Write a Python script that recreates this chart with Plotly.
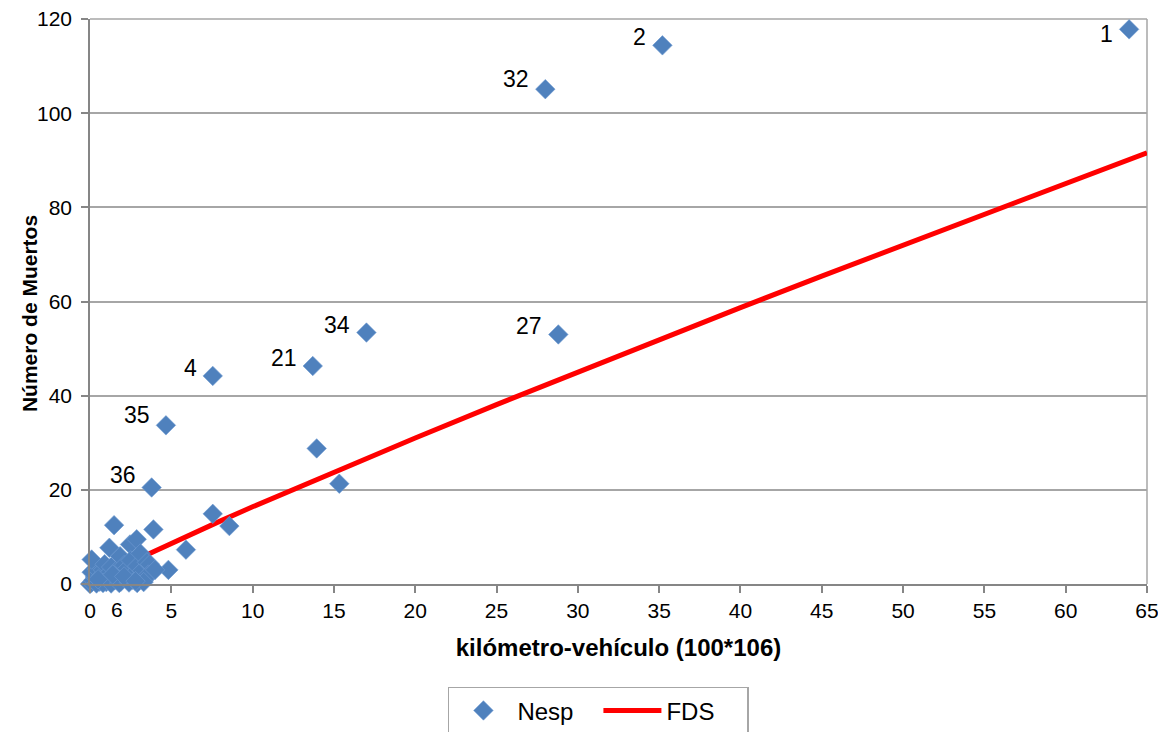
import plotly.graph_objects as go

# Nesp observations: x = kilómetro-vehículo (100*10^6), y = Número de Muertos
nesp_x = [63.9, 35.2, 28.0, 28.8, 17.0, 13.7, 7.55, 4.67, 3.79,
          13.94, 15.33, 7.55, 8.57, 5.90, 4.82, 3.9,
          0.0, 0.1, 0.2, 0.3, 0.1, 0.4, 0.1, 0.6, 0.7, 0.8, 0.9, 1.0, 1.1, 1.2,
          1.19, 1.3, 1.48, 1.5, 1.6, 1.7, 1.85, 1.9, 2.0, 2.1, 2.2, 2.3, 2.46,
          2.5, 2.6, 2.7, 2.87, 2.9, 3.0, 3.1, 3.2, 3.38, 3.5, 3.69, 3.6, 4.0,
          0.4, 0.8, 1.3, 1.8, 2.4, 2.9, 3.3, 0.5, 1.4, 2.1, 2.8]
nesp_y = [117.8, 114.4, 105.1, 53.0, 53.4, 46.3, 44.2, 33.7, 20.5,
          28.8, 21.3, 14.9, 12.3, 7.3, 3.0, 11.6,
          0.0, 0.3, 0.8, 1.5, 2.5, 3.2, 5.2, 0.5, 1.8, 3.0, 4.2, 0.4, 1.2, 2.4,
          7.7, 3.6, 12.5, 0.8, 1.9, 3.1, 5.9, 0.5, 2.6, 4.0, 1.3, 3.3, 8.4,
          5.0, 0.9, 2.2, 9.5, 3.8, 1.5, 6.5, 2.8, 1.0, 4.6, 4.2, 2.0, 3.0,
          0.1, 0.2, 0.1, 0.2, 0.3, 0.2, 0.4, 1.0, 2.0, 1.6, 0.6]
nesp_labels = ["1", "2", "32", "27", "34", "21", "4", "35", "36"] + [""] * 58

# FDS curve values
fds_x = [0.3, 1, 2, 3, 4, 5, 6, 8, 10, 15, 20, 25, 30, 35, 40, 45, 50, 55, 60, 65]
fds_y = [0.65, 1.97, 3.73, 5.41, 7.05, 8.66, 10.24, 13.35, 16.39, 23.8, 31.0,
         38.1, 45.0, 51.9, 58.7, 65.4, 72.0, 78.6, 85.2, 91.6]

x_ticks = [0, 5, 10, 15, 20, 25, 30, 35, 40, 45, 50, 55, 60, 65]
y_ticks = [0, 20, 40, 60, 80, 100, 120]

FONT = "Liberation Sans, Arial, sans-serif"

fig = go.Figure()
fig.add_trace(go.Scatter(
    x=fds_x, y=fds_y, mode="lines", name="FDS",
    line=dict(color="#FF0000", width=5), legendrank=2,
))
fig.add_trace(go.Scatter(
    x=nesp_x, y=nesp_y, mode="markers", name="Nesp",
    marker=dict(symbol="diamond", size=15, color="#4F81BD",
                line=dict(width=0.6, color="#6F9BD1")),
    cliponaxis=False, legendrank=1,
))

label_shift = {"1": -5, "32": 10, "35": 10, "36": 12}
for xv, yv, lab in zip(nesp_x, nesp_y, nesp_labels):
    if lab:
        fig.add_annotation(x=xv, y=yv, text=lab, showarrow=False,
                           xanchor="right", yanchor="middle",
                           xshift=-14, yshift=label_shift.get(lab, 8),
                           font=dict(family=FONT, size=23, color="black"))

# stray tick label "6" seen under the axis
fig.add_annotation(x=1.66, y=0, yref="y", text="6", showarrow=False,
                   yanchor="top", yshift=-12,
                   font=dict(family=FONT, size=21, color="black"))

# y-axis title placed as rotated text
fig.add_annotation(xref="paper", yref="paper", x=-0.057, y=0.479,
                   text="<b>Número de Muertos</b>", textangle=-90, showarrow=False,
                   xanchor="center", yanchor="middle",
                   font=dict(family=FONT, size=21, color="black"))

fig.update_layout(
    width=1166, height=732,
    margin=dict(l=82, r=27, t=11, b=156, autoexpand=False),
    paper_bgcolor="white", plot_bgcolor="white",
    font=dict(family=FONT, size=21, color="black"),
    showlegend=True,
    legend=dict(orientation="h", x=0.481, xanchor="center", y=-0.182, yanchor="top",
                bordercolor="#A6A6A6", borderwidth=1.5,
                font=dict(family=FONT, size=24, color="black"),
                itemwidth=58, entrywidth=76, entrywidthmode="pixels",
                traceorder="normal"),
    xaxis=dict(range=[0, 65], tickvals=x_ticks, showgrid=False,
               showline=True, linecolor="#868686", linewidth=1.5,
               ticks="outside", ticklen=7, tickcolor="#868686", tickwidth=1.5,
               mirror=False, zeroline=False, automargin=False,
               ticklabeloverflow="allow",
               tickfont=dict(family=FONT, size=21, color="black"),
               title=dict(text="<b>kilómetro-vehículo (100*106)</b>",
                          font=dict(family=FONT, size=24, color="black"), standoff=18)),
    yaxis=dict(range=[0, 120], tickvals=y_ticks, showgrid=True,
               gridcolor="#A6A6A6", gridwidth=1.5,
               showline=True, linecolor="#868686", linewidth=1.5,
               ticks="outside", ticklen=7, tickcolor="#868686", tickwidth=1.5,
               ticklabelstandoff=5, ticklabeloverflow="allow",
               zeroline=False, automargin=False,
               tickfont=dict(family=FONT, size=21, color="black")),
)

# plot-area border on top and right (as in reference)
fig.add_shape(type="line", xref="paper", yref="paper", x0=0, x1=1, y0=1, y1=1,
              line=dict(color="#A6A6A6", width=1.5), layer="below")
fig.add_shape(type="line", xref="paper", yref="paper", x0=1, x1=1, y0=0, y1=1,
              line=dict(color="#A6A6A6", width=1.5), layer="below")

fig.write_html("out.html")
